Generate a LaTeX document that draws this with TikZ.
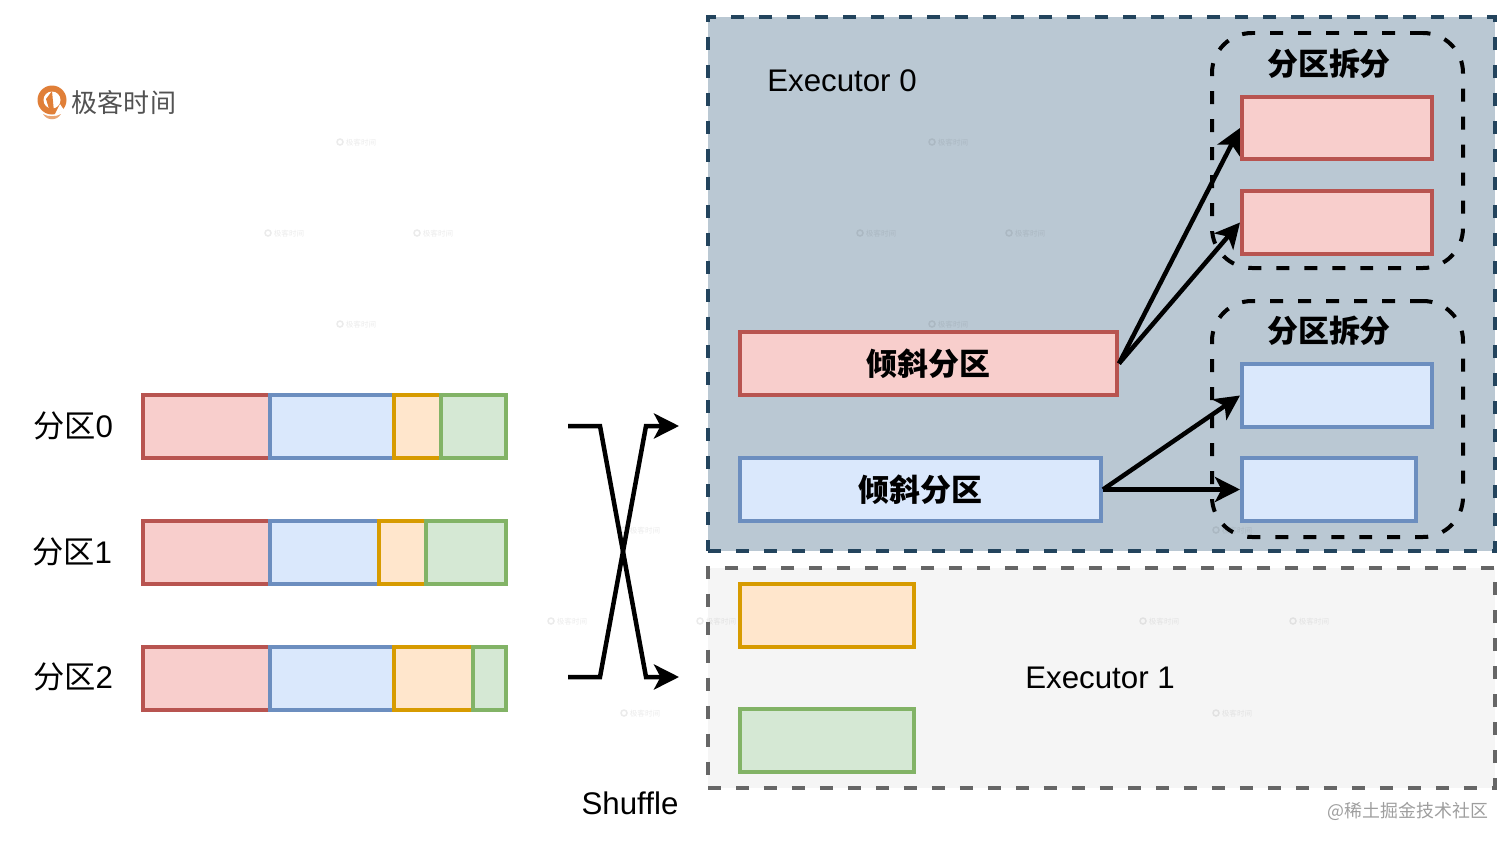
\documentclass[tikz,border=0pt]{standalone}
\usepackage{fontspec}
\setmainfont{Liberation Sans}
\newfontfamily\cjkfont{Noto Sans CJK SC}
\usetikzlibrary{arrows.meta}
\definecolor{redfill}{HTML}{F8CECC}
\definecolor{redline}{HTML}{B85450}
\definecolor{bluefill}{HTML}{DAE8FC}
\definecolor{blueline}{HTML}{6C8EBF}
\definecolor{orangefill}{HTML}{FFE6CC}
\definecolor{orangeline}{HTML}{D79B00}
\definecolor{greenfill}{HTML}{D5E8D4}
\definecolor{greenline}{HTML}{82B366}
\definecolor{execfill}{HTML}{BAC8D3}
\definecolor{execline}{HTML}{23445D}
\definecolor{idlefill}{HTML}{F5F5F5}
\definecolor{idleline}{HTML}{666666}
\definecolor{logoorange}{HTML}{E07F38}
\newcommand{\cellnode}[7][]{
	\node[#2, minimum width={(#5-#3)*0.02cm}, minimum height={(#6-#4)*0.02cm}, #1]
		at ({(#3+#5)/2},{(#4+#6)/2}) #7;
}
\tikzset{
	x=0.02cm, y=-0.02cm,
	cell/.style = {draw, line width=0.08cm, inner sep=0pt, font=\fontsize{17.6}{20}\selectfont\bfseries\cjkfont},
	redcell/.style = {cell, draw=redline, fill=redfill},
	bluecell/.style = {cell, draw=blueline, fill=bluefill},
	orangecell/.style = {cell, draw=orangeline, fill=orangefill},
	greencell/.style = {cell, draw=greenline, fill=greenfill},
	dashline/.style = {draw, line width=0.08cm, dash pattern=on 0.26cm off 0.3cm},
	execbox/.style = {dashline, draw=execline, fill=execfill},
	idlebox/.style = {dashline, draw=idleline, fill=idlefill},
	splitbox/.style = {dashline, draw=black, rounded corners=0.8cm},
	caption/.style = {inner sep=0pt, font=\fontsize{17.8}{20}\selectfont},
	splitlabel/.style = {caption, font=\fontsize{17.6}{20}\selectfont\bfseries\cjkfont},
	flow/.style = {line width=0.09cm, -{Stealth[length=0.5cm, width=0.5cm, inset=0.13cm]}},
	wmark/.style = {inner sep=0pt, text opacity=0.08, font=\fontsize{4.3}{5}\selectfont\cjkfont}
}

\begin{document}
\begin{tikzpicture}
	\useasboundingbox (0,0) rectangle (1512,845);
	% executors
	\cellnode{execbox}{708}{17}{1495}{551}{(exec0) {}}
	\cellnode{idlebox}{708}{568}{1495}{788}{(exec1) {}}
	\foreach \wx/\wy [count=\wi] in {355/143,947/143,283/234,432/234,875/234,1024/234,355/325,947/325,639/531,1231/531,566/622,715/622,1158/622,1308/622,639/714,1231/714}{
		\node[wmark] (wm\wi) at (\wx+6,\wy) {极客时间};
		\draw[black, opacity=0.08, line width=0.03cm] (\wx-15,\wy-1) circle (3);
	}
	\node[caption] (label0) at (842,81) {Executor 0};
	\node[caption] (label1) at (1100,678) {Executor 1};
	% splits
	\cellnode{splitbox}{1212}{33}{1463}{268}{(splittop) {}}
	\cellnode{splitbox}{1212}{301}{1463}{537}{(splitbot) {}}
	\node[splitlabel] (toptext) at (1329,64) {分区拆分};
	\node[splitlabel] (bottext) at (1329,331) {分区拆分};
	\cellnode{redcell}{1242}{97}{1432}{159}{(redA) {}}
	\cellnode{redcell}{1242}{191}{1432}{254}{(redB) {}}
	\cellnode{bluecell}{1242}{364}{1432}{427}{(blueA) {}}
	\cellnode{bluecell}{1242}{458}{1416}{521}{(blueB) {}}
	\cellnode{redcell}{740}{332}{1117}{395}{(skewred) {倾斜分区}}
	\cellnode{bluecell}{740}{458}{1101}{521}{(skewblue) {倾斜分区}}
	\cellnode{orangecell}{740}{584}{914}{647}{(orangeall) {}}
	\cellnode{greencell}{740}{709}{914}{772}{(greenall) {}}
	\draw[flow] (skewred.east) -- (redA.west);
	\draw[flow] (skewred.east) -- (redB.west);
	\draw[flow] (skewblue.east) -- (blueA.west);
	\draw[flow] (skewblue.east) -- (blueB.west);
	% map side partitions
	\node[caption] (part0) at (73,426) {{\cjkfont 分区}0};
	\node[caption] (part1) at (72,552) {{\cjkfont 分区}1};
	\node[caption] (part2) at (73,677) {{\cjkfont 分区}2};
	\cellnode{redcell}{143}{395}{270}{458}{(r0) {}}
	\cellnode{bluecell}{270}{395}{394}{458}{(b0) {}}
	\cellnode{orangecell}{394}{395}{441}{458}{(o0) {}}
	\cellnode{greencell}{441}{395}{506}{458}{(g0) {}}
	\cellnode{redcell}{143}{521}{270}{584}{(r1) {}}
	\cellnode{bluecell}{270}{521}{379}{584}{(b1) {}}
	\cellnode{orangecell}{379}{521}{426}{584}{(o1) {}}
	\cellnode{greencell}{426}{521}{506}{584}{(g1) {}}
	\cellnode{redcell}{143}{647}{270}{710}{(r2) {}}
	\cellnode{bluecell}{270}{647}{394}{710}{(b2) {}}
	\cellnode{orangecell}{394}{647}{473}{710}{(o2) {}}
	\cellnode{greencell}{473}{647}{506}{710}{(g2) {}}
	% shuffle
	\coordinate (inA) at (568,426);
	\coordinate (inB) at (568,677);
	\coordinate (outA) at (679,426);
	\coordinate (outB) at (679,677);
	\draw[flow] (inA) -- (600,426) -- (646,677) -- (outB);
	\draw[flow] (inB) -- (600,677) -- (646,426) -- (outA);
	\node[caption] (shuffle) at (630,803) {Shuffle};
	% logo
	\fill[logoorange] (52,100) circle (14.5);
	\fill[white] (52,100) circle (8.5);
	\fill[logoorange] (46,99) -- (52,91) -- (54,112) -- (50,112) -- cycle;
	\fill[white] (54,116) -- (60,104) -- (64,110) -- cycle;
	\fill[logoorange!70!white] (43,114) .. controls (47,121) and (57,121) .. (61,114) .. controls (56,117) and (48,117) .. (43,114) -- cycle;
	\node[inner sep=0pt, text=black!68, font=\fontsize{14.8}{16}\selectfont\cjkfont] (logotext) at (124,103) {极客时间};
	\node[inner sep=0pt, text=black!38, font=\fontsize{10.2}{12}\selectfont\cjkfont] (sitemark) at (1408,811) {@稀土掘金技术社区};
\end{tikzpicture}
\end{document}
